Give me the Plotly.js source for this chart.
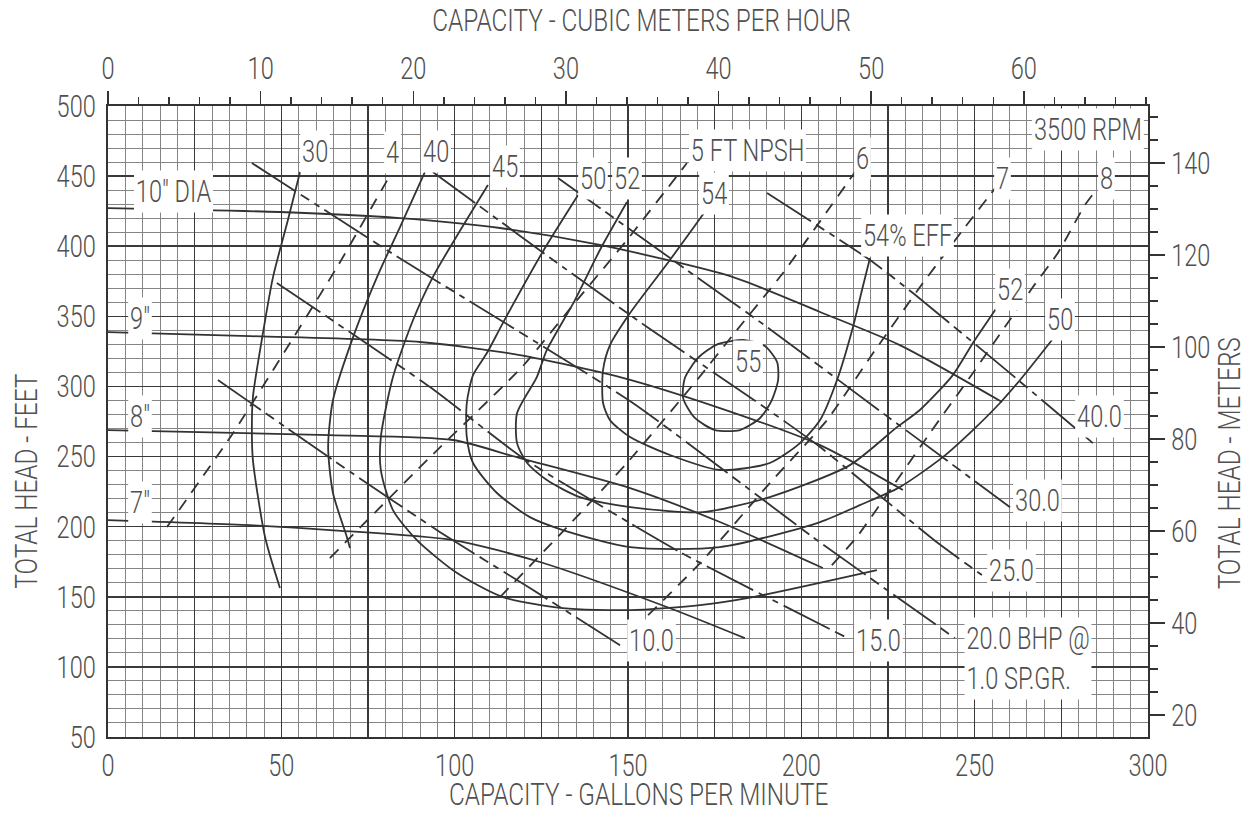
<!DOCTYPE html>
<html><head><meta charset="utf-8">
<script src="https://cdn.plot.ly/plotly-3.0.1.min.js"></script>
<style>html,body{margin:0;padding:0;background:#fff;}#chart{width:1252px;height:816px;}</style>
</head><body><div id="chart"></div>
<script>
// ---- unit conversions ----
const GPM_PER_M3H = 4.40287;
const FT_PER_M = 3.28084;

// ---- axis tick labels ----
const X_TICKVALS = [0,25,50,75,100,125,150,175,200,225,250,275,300];
const X_TICKTEXT = ['0','','50','','100','','150','','200','','250','','300'];

// ---- head-capacity curves (GPM, ft) ----
const head10_q = [0, 49.6, 84.2, 113.1, 141.9, 180.3, 205.4, 228.4, 257.9];
const head10_h = [427.2, 424.4, 420.1, 413.0, 400.9, 378.0, 353.1, 329.5, 288.9];
const head9_q = [0, 41.0, 90.0, 118.8, 147.7, 176.5, 205.4, 229.3];
const head9_h = [338.8, 335.9, 331.7, 322.4, 306.7, 284.6, 258.2, 226.1];
const head8_q = [0, 64.0, 99.5, 118.8, 150.6, 176.5, 206.2];
const head8_h = [268.9, 265.3, 261.8, 248.9, 227.5, 203.3, 170.5];
const head7_q = [0, 41.0, 64.0, 99.5, 124.6, 161.2, 183.7];
const head7_h = [204.7, 201.1, 197.6, 190.4, 174.8, 142.7, 120.5];

// ---- efficiency contours (%) ----
const eff30_q = [55.4, 51.9, 47.6, 44.7, 41.8, 41.5, 41.8, 45.3, 49.6];
const eff30_h = [452.9, 418.7, 378.0, 338.1, 292.4, 268.9, 247.5, 192.6, 156.2];
const eff40_q = [91.4, 84.5, 77.6, 70.7, 64.9, 63.5, 64.9, 68.9, 69.8];
const eff40_h = [452.9, 415.1, 378.0, 335.2, 290.3, 256.8, 224.0, 192.6, 184.7];
const eff45_q = [109.6, 93.7, 88.0, 82.2, 78.7, 78.7, 82.2, 89.1, 100.7, 113.9, 131.2, 150.6, 170.8, 186.0, 221.8];
const eff45_h = [443.7, 378.0, 347.4, 306.7, 263.9, 240.4, 211.8, 190.4, 166.9, 149.8, 141.9, 140.5, 144.1, 149.8, 169.0];
const eff50_q = [135.6, 125.2, 113.9, 109.3, 105.3, 103.5, 103.5, 105.3, 112.2, 121.7, 131.2, 150.6, 176.5, 205.4, 216.9, 228.4, 240.8, 249.5, 257.3, 263.1, 272.3];
const eff50_h = [436.5, 395.2, 345.2, 323.8, 308.1, 288.2, 263.9, 245.4, 224.0, 206.8, 197.6, 185.4, 185.4, 203.3, 215.4, 228.2, 249.6, 268.9, 288.2, 304.6, 333.1];
const eff52_q = [149.7, 141.9, 134.7, 126.6, 123.7, 118.0, 118.0, 120.9, 126.6, 136.1, 150.6, 171.6, 190.9, 214.0, 227.6, 234.2, 243.7, 249.5, 257.3];
const eff52_h = [431.5, 397.3, 361.6, 326.0, 306.7, 281.0, 259.6, 245.4, 233.2, 221.1, 214.0, 210.4, 221.1, 243.9, 271.0, 283.2, 308.1, 331.0, 359.5];
const eff54_q = [173.6, 162.1, 150.6, 144.8, 142.8, 142.8, 144.8, 150.6, 162.1, 176.5, 190.9, 199.6, 205.4, 210.3, 214.9, 217.5, 219.8];
const eff54_h = [429.4, 390.2, 352.4, 329.5, 311.7, 288.2, 276.0, 263.9, 251.1, 240.4, 245.4, 259.6, 276.0, 304.6, 342.4, 368.8, 391.6];
const eff55_q = [183.7, 189.5, 193.0, 193.3, 191.5, 188.1, 182.3, 175.1, 169.3, 165.9, 166.4, 170.2, 175.9, 183.7];
const eff55_h = [333.1, 328.8, 317.4, 304.6, 290.3, 277.5, 268.9, 268.9, 277.5, 291.7, 306.0, 320.3, 330.2, 333.1];

// ---- brake horsepower lines (BHP @ 1.0 SP.GR.) ----
const bhp10_q = [31.7, 70.4, 95.8, 121.7, 147.7];
const bhp10_h = [304.6, 238.2, 196.1, 156.2, 115.5];
const bhp15_q = [48.7, 92.9, 119.7, 165.0, 213.4];
const bhp15_h = [373.8, 299.6, 248.9, 181.9, 120.5];
const bhp20_q = [41.5, 83.6, 151.4, 203.3, 244.3];
const bhp20_h = [459.3, 392.3, 288.2, 192.6, 120.5];
const bhp25_q = [93.7, 131.2, 155.5, 191.8, 205.4, 239.4, 252.1];
const bhp25_h = [452.9, 385.2, 342.4, 281.0, 256.8, 188.3, 165.5];
const bhp30_q = [129.8, 167.0, 190.1, 223.5, 260.2];
const bhp30_h = [448.6, 383.0, 342.4, 281.0, 213.9];
const bhp40_q = [190.1, 219.8, 232.2, 258.1, 284.1];
const bhp40_h = [437.9, 390.2, 366.6, 313.8, 259.6];

// ---- NPSH required lines (ft) ----
const npsh4_q = [17.0, 36.1, 55.4, 66.1, 81.9];
const npsh4_h = [199.7, 266.8, 342.4, 385.2, 452.9];
const npsh5_q = [64.0, 92.9, 119.4, 135.3, 149.7, 167.0];
const npsh5_h = [177.6, 249.6, 313.8, 361.6, 404.4, 459.3];
const npsh6_q = [113.1, 132.4, 149.7, 169.9, 181.4, 194.7, 207.7, 215.5];
const npsh6_h = [149.8, 199.7, 245.4, 304.6, 340.2, 380.9, 425.8, 452.9];
const npsh7_q = [155.8, 170.8, 190.9, 207.4, 220.7, 235.1, 246.6, 257.3];
const npsh7_h = [136.9, 174.0, 231.1, 276.0, 323.8, 373.8, 411.6, 445.8];
const npsh8_q = [208.8, 216.0, 227.0, 237.1, 249.5, 258.7, 266.8, 274.0, 281.8, 285.5];
const npsh8_h = [172.6, 192.6, 231.1, 266.8, 309.6, 342.4, 370.9, 395.2, 429.4, 441.5];

// ---- styling ----
const FONT = 'Roboto, "Liberation Sans", sans-serif';
const FW = 300;
const INK = '#333333';
const TXT = '#505050';
const FS = 31;
const FS_TITLE = 32;
const SQUEEZE = 0.76;
const BHP_DASH = '52px,6px,10px,6px,6px,6px';
const NPSH_DASH = '12px,9px';

function line(q, h, dash, sm) {
  return {type:'scatter', mode:'lines', x:q, y:h, xaxis:'x', yaxis:'y',
    line:{color:INK, width:1.8, dash:dash || 'solid', shape:'spline', smoothing:(sm===undefined?0.7:sm)},
    hoverinfo:'skip', showlegend:false};
}

const traces = [
  line(head10_q, head10_h), line(head9_q, head9_h), line(head8_q, head8_h), line(head7_q, head7_h),
  line(eff30_q, eff30_h), line(eff40_q, eff40_h), line(eff45_q, eff45_h), line(eff50_q, eff50_h),
  line(eff52_q, eff52_h), line(eff54_q, eff54_h), line(eff55_q, eff55_h),
  line(bhp10_q, bhp10_h, BHP_DASH, 0.5), line(bhp15_q, bhp15_h, BHP_DASH, 0.5), line(bhp20_q, bhp20_h, BHP_DASH, 0.5),
  line(bhp25_q, bhp25_h, BHP_DASH, 0.5), line(bhp30_q, bhp30_h, BHP_DASH, 0.5), line(bhp40_q, bhp40_h, BHP_DASH, 0.5),
  line(npsh4_q, npsh4_h, NPSH_DASH, 0.5), line(npsh5_q, npsh5_h, NPSH_DASH, 0.5), line(npsh6_q, npsh6_h, NPSH_DASH, 0.5),
  line(npsh7_q, npsh7_h, NPSH_DASH, 0.5), line(npsh8_q, npsh8_h, NPSH_DASH, 0.5),
  {type:'scatter', mode:'markers', x:[0], y:[20], xaxis:'x2', yaxis:'y2', marker:{opacity:0}, hoverinfo:'skip', showlegend:false}
];

// ---- curve labels ----
const LABELS = [
  ['10" DIA', 19.0, 438.7], ['9"', 9.2, 348.8], ['8"', 9.2, 278.9], ['7"', 9.2, 217.5],
  ['30', 59.7, 467.9], ['4', 82.2, 466.5], ['40', 94.6, 467.9], ['45', 114.5, 457.2],
  ['50', 139.9, 448.6], ['52', 149.7, 448.6], ['54', 174.8, 437.9], ['5 FT NPSH', 184.6, 468.6],
  ['6', 217.5, 462.9], ['7', 258.1, 448.6], ['8', 287.9, 448.6], ['3500 RPM', 282.7, 482.9],
  ['54% EFF', 230.5, 408.0], ['52', 260.2, 368.8], ['50', 274.6, 347.4], ['55', 184.6, 318.1],
  ['40.0', 286.1, 278.9], ['30.0', 268.0, 219.0], ['25.0', 260.7, 169.0], ['15.0', 222.4, 119.1],
  ['10.0', 156.9, 119.1], ['20.0 BHP @<br>1.0 SP.GR.', 265.4, 106.3]
];

const TFONT = {family:FONT, size:FS, color:TXT, weight:FW};
const TTFONT = {family:FONT, size:FS_TITLE, color:TXT, weight:FW};

const annotations = LABELS.map(l => ({
  text:l[0], x:l[1], y:l[2], xref:'x', yref:'y', showarrow:false,
  xanchor:'center', yanchor:'middle', align:'left',
  bgcolor:'#ffffff', borderpad:2, font:TFONT
}));
annotations.push(
  {text:'CAPACITY - CUBIC METERS PER HOUR', xref:'paper', yref:'paper', x:0.513, y:1.136, showarrow:false, xanchor:'center', yanchor:'middle', borderpad:0, font:TTFONT},
  {text:'CAPACITY - GALLONS PER MINUTE', xref:'paper', yref:'paper', x:0.51, y:-0.0904, showarrow:false, xanchor:'center', yanchor:'middle', borderpad:0, font:TTFONT},
  {text:'TOTAL HEAD - FEET', xref:'paper', yref:'paper', x:-0.079, y:0.406, showarrow:false, textangle:-90, xanchor:'center', yanchor:'middle', font:TTFONT},
  {text:'TOTAL HEAD - METERS', xref:'paper', yref:'paper', x:1.078, y:0.434, showarrow:false, textangle:-90, xanchor:'center', yanchor:'middle', font:TTFONT}
);

const layout = {
  width:1252, height:816,
  margin:{l:108, r:104, t:106, b:79, pad:0},
  paper_bgcolor:'#ffffff', plot_bgcolor:'#ffffff',
  font:TFONT,
  showlegend:false,
  xaxis:{range:[0,300], tickmode:'array', tickvals:X_TICKVALS, ticktext:X_TICKTEXT, ticks:'',
    showgrid:true, gridcolor:'#3a3a3a', gridwidth:1.6, zeroline:false,
    showline:true, linecolor:INK, linewidth:2, ticklabelstandoff:0,
    tickfont:TFONT,
    minor:{tickmode:'linear', tick0:0, dtick:5, showgrid:true, gridcolor:'#858585', gridwidth:1, ticks:''},
    fixedrange:true},
  yaxis:{range:[50,500], tickmode:'linear', tick0:0, dtick:50, ticks:'',
    showgrid:true, gridcolor:'#3a3a3a', gridwidth:1.6, zeroline:false,
    showline:true, linecolor:INK, linewidth:2, ticklabelstandoff:4,
    tickfont:TFONT,
    minor:{tickmode:'linear', tick0:0, dtick:10, showgrid:true, gridcolor:'#858585', gridwidth:1, ticks:''},
    fixedrange:true},
  xaxis2:{overlaying:'x', side:'top', anchor:'y2', range:[0, 300/GPM_PER_M3H],
    tickmode:'linear', tick0:0, dtick:10, ticks:'outside', ticklen:13, tickwidth:1.5, tickcolor:INK,
    showgrid:false, zeroline:false, showline:true, linecolor:INK, linewidth:2, ticklabelstandoff:0,
    tickfont:TFONT,
    minor:{tickmode:'linear', tick0:0, dtick:2, ticks:'outside', ticklen:7, tickwidth:1.5, tickcolor:INK, showgrid:false},
    fixedrange:true},
  yaxis2:{overlaying:'y', side:'right', anchor:'x2', range:[50/FT_PER_M, 500/FT_PER_M],
    tickmode:'linear', tick0:0, dtick:20, ticks:'outside', ticklen:15, tickwidth:1.5, tickcolor:INK,
    showgrid:false, zeroline:false, showline:true, linecolor:INK, linewidth:2, ticklabelstandoff:0,
    tickfont:TFONT,
    minor:{tickmode:'linear', tick0:0, dtick:5, ticks:'outside', ticklen:8, tickwidth:1.5, tickcolor:INK, showgrid:false},
    fixedrange:true},
  annotations:annotations
};

// condense text horizontally to imitate the narrow drafting lettering
function squeezeText(t, s) {
  const bb = t.getBBox();
  const anchor = t.getAttribute('text-anchor') || 'start';
  const ax = anchor === 'end' ? bb.x + bb.width : (anchor === 'middle' ? bb.x + bb.width / 2 : bb.x);
  const tr = t.getAttribute('transform') || '';
  t.setAttribute('transform', tr + ' translate(' + ax + ',0) scale(' + s + ',1) translate(' + (-ax) + ',0)');
}
function squeezeGroup(g, s) {
  const bb = g.getBBox();
  const cx = bb.x + bb.width / 2, cy = bb.y + bb.height / 2;
  const tr = g.getAttribute('transform') || '';
  g.setAttribute('transform', tr + ' translate(' + cx + ',' + cy + ') scale(' + s + ',1) translate(' + (-cx) + ',' + (-cy) + ')');
}

Plotly.newPlot('chart', traces, layout, {staticPlot:true, displayModeBar:false}).then(gd => {
  gd.querySelectorAll('g.xtick text, g.ytick text, g.x2tick text, g.y2tick text').forEach(t => squeezeText(t, SQUEEZE));
  gd.querySelectorAll('g.annotation-text-g').forEach(g => squeezeGroup(g, SQUEEZE));
});
</script>
</body></html>
